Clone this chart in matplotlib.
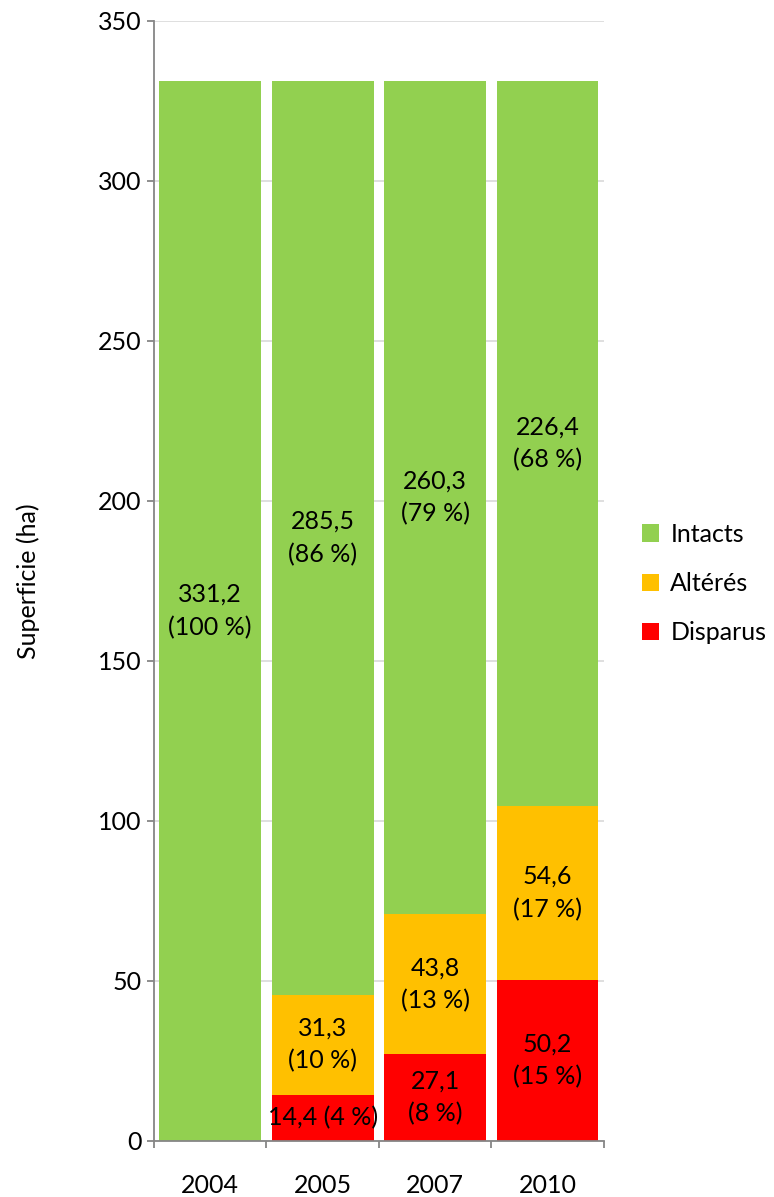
import matplotlib
matplotlib.use("Agg")
import matplotlib.pyplot as plt
from matplotlib.patches import Patch
from matplotlib.ticker import FixedLocator, NullFormatter

plt.rcParams['font.family'] = ['Lato', 'DejaVu Sans']

years = ["2004", "2005", "2007", "2010"]
disparus = [0.0, 14.4, 27.1, 50.2]
alteres = [0.0, 31.3, 43.8, 54.6]
intacts = [331.2, 285.5, 260.3, 226.4]
pct_disparus = [None, 4, 8, 15]
pct_alteres = [None, 10, 13, 17]
pct_intacts = [100, 86, 79, 68]

series_names = ["Intacts", "Altérés", "Disparus"]
colors = {"Intacts": "#92D050", "Altérés": "#FFC000", "Disparus": "#FF0000"}

fig = plt.figure(figsize=(7.74, 11.97), dpi=100)
ax = fig.add_axes([0.199, 0.0468, 0.581, 0.9357])

x = list(range(len(years)))
width = 0.907
fs = 18


def fmt(v):
    return f"{v:.1f}".replace(".", ",")


bottom = [0.0] * len(years)
stack = [("Disparus", disparus, pct_disparus),
         ("Altérés", alteres, pct_alteres),
         ("Intacts", intacts, pct_intacts)]
for name, vals, pcts in stack:
    ax.bar(x, vals, width, bottom=bottom, color=colors[name], zorder=2)
    for i, (v, p) in enumerate(zip(vals, pcts)):
        if v <= 0:
            continue
        yc = bottom[i] + v / 2
        if name == "Disparus" and v < 20:
            txt = f"{fmt(v)} ({p} %)"
        else:
            txt = f"{fmt(v)}\n({p} %)"
        ax.text(i, yc, txt, ha="center", va="center", fontsize=fs,
                linespacing=1.5, color="black", zorder=3)
    bottom = [b + v for b, v in zip(bottom, vals)]

ax.set_xlim(-0.5, len(years) - 0.5)
ax.set_ylim(0, 350)
ax.set_yticks(range(0, 351, 50))
ax.set_xticks(x)
ax.set_xticklabels(years)
ax.xaxis.set_minor_locator(FixedLocator([i - 0.5 for i in range(len(years) + 1)]))
ax.xaxis.set_minor_formatter(NullFormatter())

ax.yaxis.grid(True, color="#D9D9D9", linewidth=1.2, zorder=0)
ax.set_axisbelow(True)

for s in ["top", "right"]:
    ax.spines[s].set_visible(False)
for s in ["left", "bottom"]:
    ax.spines[s].set_color("#868686")
    ax.spines[s].set_linewidth(1.3)

ax.tick_params(axis="y", length=5, width=1.3, color="#868686", pad=4,
               labelsize=fs)
ax.tick_params(axis="x", which="major", length=0, pad=24, labelsize=fs)
ax.tick_params(axis="x", which="minor", length=5, width=1.3, color="#868686")

ax.set_ylabel("Superficie (ha)", fontsize=fs, labelpad=42)

handles = [Patch(facecolor=colors[n], edgecolor="none") for n in series_names]
fig.legend(handles, series_names, loc="center left",
           bbox_to_anchor=(0.829, 0.5125), frameon=False, fontsize=fs,
           borderpad=0, borderaxespad=0,
           handlelength=0.7, handleheight=0.7, handletextpad=0.45,
           labelspacing=1.05)

fig.savefig("out.png", dpi=100)
